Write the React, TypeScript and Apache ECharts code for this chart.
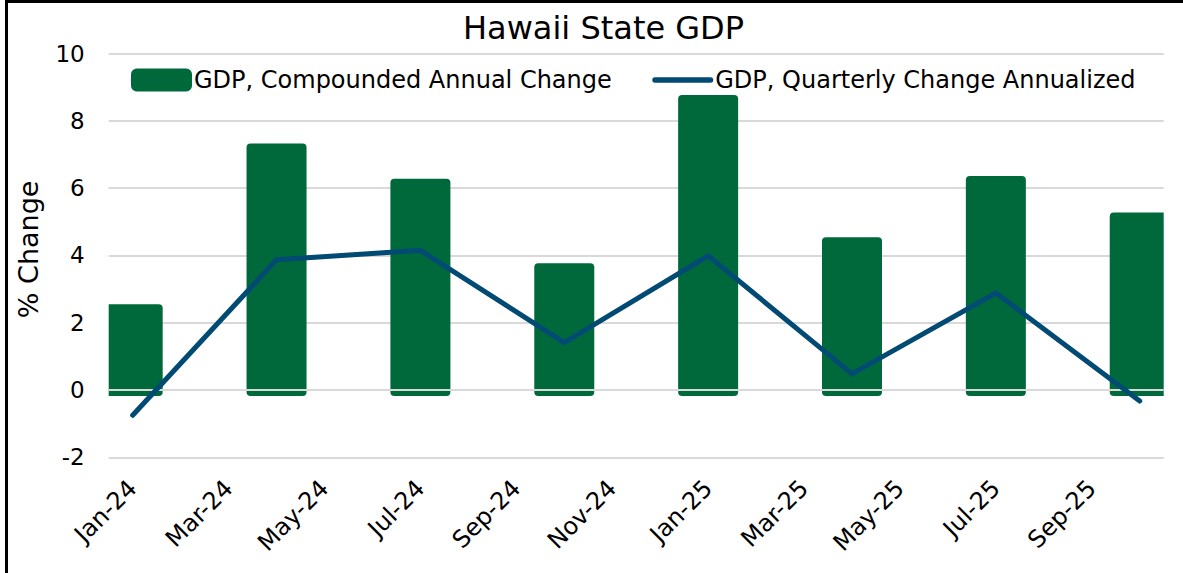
import React, { useEffect, useRef } from "react";
import * as echarts from "echarts";

const months = [
  "Jan-24", "Feb-24", "Mar-24", "Apr-24", "May-24", "Jun-24", "Jul-24", "Aug-24",
  "Sep-24", "Oct-24", "Nov-24", "Dec-24", "Jan-25", "Feb-25", "Mar-25", "Apr-25",
  "May-25", "Jun-25", "Jul-25", "Aug-25", "Sep-25", "Oct-25",
];
const quarters = ["Jan-24", "Apr-24", "Jul-24", "Oct-24", "Jan-25", "Apr-25", "Jul-25", "Oct-25"];
const annualChange = [2.37, 7.15, 6.1, 3.59, 8.59, 4.36, 6.18, 5.1];
const quarterlyAnnualized = [-0.75, 3.87, 4.15, 1.41, 3.99, 0.48, 2.88, -0.33];
const yTicks = { min: -2, max: 10, interval: 2 };
const titleText = "Hawaii State GDP";
const barName = "GDP, Compounded Annual Change";
const lineName = "GDP, Quarterly Change Annualized";

const GREEN = "#00693B";
const NAVY = "#004A74";
const FONT = "DejaVu Sans";

export default function App() {
  const ref = useRef<HTMLDivElement>(null);
  useEffect(() => {
    if (!ref.current) return;
    const chart = echarts.init(ref.current, undefined, { renderer: "svg" });
    const option: any = {
      animation: false,
      backgroundColor: "#fff",
      textStyle: { fontFamily: FONT, color: "#000" },
      graphic: [
        {
          type: "text",
          x: 603.5,
          y: 28,
          style: {
            text: titleText,
            font: `32px "${FONT}"`,
            fill: "#000",
            textAlign: "center",
            textVerticalAlign: "middle",
          },
        },
      ],
      legend: {
        left: 131,
        top: 68,
        padding: 0,
        itemGap: 40.5,
        itemWidth: 61,
        itemHeight: 23,
        textStyle: { fontFamily: FONT, fontSize: 24, color: "#000", padding: [0, 0, 0, -3] },
        data: [
          { name: barName, icon: "roundRect", itemStyle: { color: GREEN } },
          {
            name: lineName,
            icon: "path://M2.5,0 H53.5 A2.5,2.5 0 0 1 53.5,5 H2.5 A2.5,2.5 0 0 1 2.5,0 Z",
            itemStyle: { color: NAVY },
          },
        ],
      },
      grid: { left: 108.7, right: 19.3, top: 53.5, bottom: 115.7, containLabel: false },
      xAxis: {
        type: "category",
        data: months,
        boundaryGap: true,
        axisLine: { show: false },
        axisTick: { show: false },
        axisLabel: {
          interval: 1,
          rotate: 45,
          fontSize: 24,
          fontFamily: FONT,
          color: "#000",
          margin: 27,
        },
      },
      yAxis: {
        type: "value",
        min: yTicks.min,
        max: yTicks.max,
        interval: yTicks.interval,
        name: "% Change",
        nameLocation: "middle",
        nameGap: 67,
        nameTextStyle: { fontSize: 27, fontFamily: FONT, color: "#000", padding: [0, 0, 0, 12] },
        axisLine: { show: false },
        axisTick: { show: false },
        axisLabel: { fontSize: 23, fontFamily: FONT, color: "#000", margin: 24 },
        splitLine: { lineStyle: { color: "#d9d9d9", width: 2 } },
      },
      series: [
        {
          name: barName,
          type: "custom",
          z: 2,
          itemStyle: { color: GREEN },
          data: quarters.map((q, i) => [q, annualChange[i]]),
          encode: { x: 0, y: 1 },
          renderItem: (params: any, api: any) => {
            const idx = api.value(0);
            const v = api.value(1);
            const top = api.coord([idx, v]);
            const base = api.coord([idx, 0]);
            const cs = params.coordSys;
            const w = 60;
            const ext = 6;
            const x0 = top[0] - w / 2;
            const x1 = top[0] + w / 2;
            const cl = Math.max(x0, cs.x);
            const cr = Math.min(x1, cs.x + cs.width);
            const y1 = Math.min(top[1], base[1]) - ext;
            const y2 = Math.max(top[1], base[1]) + ext;
            const rl = x0 < cs.x ? 0 : 4;
            const rr = x1 > cs.x + cs.width ? 0 : 4;
            return {
              type: "rect",
              shape: { x: cl, y: y1, width: cr - cl, height: y2 - y1, r: [rl, rr, rr, rl] },
              style: { fill: GREEN },
            };
          },
          markLine: {
            silent: true,
            symbol: "none",
            label: { show: false },
            lineStyle: { color: "#d9d9d9", width: 2, type: "solid" },
            data: [{ yAxis: 0 }],
          },
        },
        {
          name: lineName,
          type: "line",
          z: 5,
          symbol: "none",
          data: quarters.map((q, i) => [q, quarterlyAnnualized[i]]),
          lineStyle: { color: NAVY, width: 5, cap: "round", join: "miter" },
          itemStyle: { color: NAVY },
        },
      ],
    };
    chart.setOption(option);
    return () => chart.dispose();
  }, []);

  return (
    <div style={{ position: "absolute", left: 0, top: 0, width: 1183, height: 573, overflow: "hidden", background: "#fff" }}>
      <div ref={ref} style={{ position: "absolute", left: 0, top: 0, width: 1183, height: 573 }} />
      <div
        style={{
          position: "absolute",
          left: 5,
          top: 0,
          width: 1250,
          height: 650,
          border: "3px solid #000",
          boxSizing: "border-box",
          pointerEvents: "none",
        }}
      />
    </div>
  );
}
